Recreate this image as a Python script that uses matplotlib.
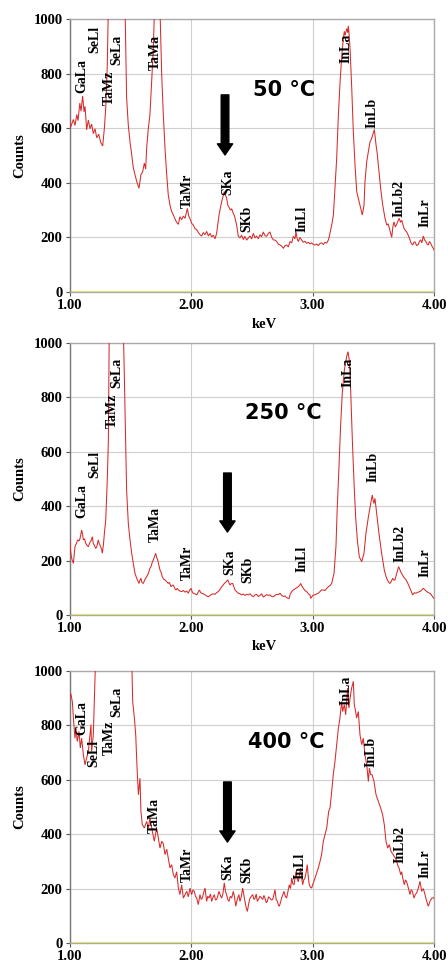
import matplotlib
matplotlib.use("Agg")
import matplotlib.pyplot as plt

# ---------------- spectra (energy in keV, counts) ----------------
kev_50 = [1.000, 1.006, 1.018, 1.032, 1.045, 1.060, 1.070, 1.085, 1.095, 1.108, 1.120, 1.128, 1.141, 1.155,
          1.169, 1.182, 1.196, 1.210, 1.224, 1.240, 1.257, 1.273, 1.287, 1.298, 1.311, 1.320, 1.390, 1.457,
          1.470, 1.484, 1.498, 1.512, 1.525, 1.539, 1.553, 1.572, 1.588, 1.602, 1.616, 1.627, 1.635, 1.649,
          1.662, 1.676, 1.690, 1.698, 1.720, 1.745, 1.759, 1.772, 1.786, 1.800, 1.813, 1.827, 1.841, 1.855,
          1.868, 1.882, 1.896, 1.909, 1.923, 1.937, 1.951, 1.970, 1.980, 1.992, 2.005, 2.019, 2.033, 2.047,
          2.060, 2.074, 2.088, 2.101, 2.115, 2.129, 2.143, 2.157, 2.170, 2.184, 2.198, 2.211, 2.230, 2.252,
          2.274, 2.283, 2.293, 2.303, 2.313, 2.325, 2.335, 2.346, 2.357, 2.367, 2.376, 2.389, 2.403, 2.417,
          2.431, 2.444, 2.458, 2.472, 2.486, 2.499, 2.513, 2.527, 2.540, 2.554, 2.568, 2.581, 2.595, 2.609,
          2.623, 2.637, 2.650, 2.664, 2.678, 2.691, 2.705, 2.719, 2.733, 2.746, 2.760, 2.774, 2.787, 2.801,
          2.815, 2.829, 2.842, 2.856, 2.864, 2.874, 2.883, 2.897, 2.911, 2.925, 2.938, 2.952, 2.966, 2.979,
          2.993, 3.007, 3.021, 3.035, 3.048, 3.062, 3.076, 3.089, 3.103, 3.117, 3.130, 3.139, 3.148, 3.158,
          3.172, 3.185, 3.199, 3.213, 3.227, 3.241, 3.254, 3.262, 3.268, 3.282, 3.290, 3.295, 3.302, 3.309,
          3.323, 3.336, 3.350, 3.364, 3.377, 3.391, 3.410, 3.424, 3.432, 3.446, 3.460, 3.473, 3.485, 3.495,
          3.509, 3.523, 3.532, 3.542, 3.561, 3.578, 3.597, 3.611, 3.622, 3.633, 3.643, 3.652, 3.662, 3.671,
          3.682, 3.693, 3.705, 3.714, 3.724, 3.734, 3.753, 3.765, 3.775, 3.786, 3.797, 3.810, 3.824, 3.834,
          3.843, 3.857, 3.871, 3.880, 3.890, 3.900, 3.912, 3.923, 3.934, 3.944, 3.953, 3.963, 3.972, 3.983,
          3.994, 4.000]
counts_50 = [650, 600, 615, 632, 610, 650, 628, 692, 662, 718, 660, 680, 594, 630,
             598, 615, 580, 598, 565, 578, 548, 535, 600, 673, 830, 1050, 1500, 1050,
             713, 610, 550, 503, 455, 430, 405, 380, 430, 440, 472, 450, 527, 600,
             650, 770, 890, 1010, 1400, 1030, 795, 650, 527, 430, 355, 318, 294, 282,
             268, 255, 248, 276, 265, 278, 270, 306, 280, 268, 252, 245, 232, 228,
             218, 210, 205, 218, 210, 222, 205, 215, 202, 208, 195, 215, 280, 330,
             368, 355, 345, 318, 310, 300, 305, 290, 280, 262, 245, 205, 198, 208,
             192, 204, 190, 198, 205, 194, 215, 198, 205, 195, 210, 202, 220, 206,
             204, 215, 220, 200, 191, 190, 185, 175, 172, 168, 160, 170, 172, 165,
             185, 180, 204, 195, 220, 195, 185, 200, 190, 182, 186, 178, 182, 176,
             180, 174, 172, 176, 170, 178, 180, 174, 182, 179, 190, 204, 225, 245,
             282, 379, 489, 648, 770, 868, 929, 955, 940, 965, 950, 975, 940, 892,
             746, 587, 465, 367, 343, 318, 282, 318, 404, 477, 514, 550, 560, 575,
             595, 538, 510, 465, 379, 318, 270, 245, 250, 233, 215, 200, 240, 257,
             238, 248, 262, 270, 255, 263, 233, 225, 220, 210, 198, 180, 172, 182,
             184, 170, 174, 185, 191, 180, 205, 190, 185, 175, 172, 185, 179, 168,
             160, 154]

kev_250 = [1.000, 1.008, 1.015, 1.023, 1.032, 1.045, 1.056, 1.067, 1.078, 1.086, 1.100, 1.108, 1.114, 1.124,
           1.133, 1.141, 1.155, 1.162, 1.169, 1.177, 1.188, 1.196, 1.204, 1.215, 1.224, 1.237, 1.245, 1.257,
           1.265, 1.270, 1.280, 1.287, 1.298, 1.311, 1.320, 1.328, 1.390, 1.443, 1.451, 1.462, 1.470, 1.484,
           1.498, 1.512, 1.525, 1.539, 1.553, 1.572, 1.580, 1.588, 1.596, 1.608, 1.618, 1.627, 1.640, 1.649,
           1.662, 1.671, 1.682, 1.690, 1.700, 1.709, 1.717, 1.726, 1.735, 1.745, 1.755, 1.764, 1.774, 1.786,
           1.800, 1.813, 1.822, 1.835, 1.845, 1.855, 1.868, 1.877, 1.887, 1.896, 1.909, 1.923, 1.937, 1.951,
           1.965, 1.978, 1.990, 2.000, 2.010, 2.019, 2.033, 2.047, 2.060, 2.069, 2.080, 2.088, 2.101, 2.115,
           2.129, 2.143, 2.157, 2.170, 2.184, 2.198, 2.211, 2.225, 2.240, 2.252, 2.265, 2.274, 2.285, 2.302,
           2.313, 2.321, 2.330, 2.343, 2.352, 2.362, 2.376, 2.389, 2.403, 2.417, 2.431, 2.444, 2.458, 2.472,
           2.486, 2.499, 2.513, 2.527, 2.540, 2.554, 2.568, 2.581, 2.595, 2.609, 2.623, 2.637, 2.650, 2.664,
           2.678, 2.691, 2.705, 2.719, 2.733, 2.746, 2.760, 2.774, 2.787, 2.801, 2.809, 2.815, 2.829, 2.842,
           2.856, 2.870, 2.883, 2.895, 2.903, 2.911, 2.925, 2.938, 2.952, 2.966, 2.979, 2.986, 2.993, 3.007,
           3.021, 3.035, 3.048, 3.062, 3.075, 3.089, 3.103, 3.117, 3.130, 3.144, 3.158, 3.177, 3.193, 3.204,
           3.218, 3.232, 3.245, 3.262, 3.281, 3.292, 3.303, 3.314, 3.328, 3.342, 3.355, 3.369, 3.385, 3.405,
           3.424, 3.440, 3.460, 3.479, 3.492, 3.500, 3.506, 3.514, 3.528, 3.547, 3.569, 3.591, 3.605, 3.616,
           3.627, 3.638, 3.650, 3.660, 3.670, 3.679, 3.693, 3.709, 3.718, 3.726, 3.737, 3.748, 3.759, 3.770,
           3.783, 3.797, 3.810, 3.824, 3.838, 3.852, 3.868, 3.885, 3.898, 3.912, 3.926, 3.940, 3.954, 3.967,
           3.978, 3.989, 4.000]
counts_250 = [288, 240, 215, 200, 190, 251, 262, 276, 272, 280, 312, 295, 276, 280,
              264, 258, 251, 260, 268, 272, 288, 262, 257, 245, 250, 276, 262, 251,
              240, 227, 262, 300, 349, 496, 643, 1100, 1800, 1050, 888, 643, 460, 337,
              276, 227, 190, 153, 135, 116, 128, 135, 120, 116, 128, 135, 145, 153,
              172, 178, 195, 202, 215, 227, 212, 202, 185, 165, 155, 141, 132, 129,
              122, 116, 120, 104, 108, 110, 96, 92, 98, 92, 88, 86, 90, 84,
              88, 80, 92, 98, 85, 80, 78, 74, 85, 92, 82, 80, 78, 74,
              70, 67, 72, 76, 78, 76, 82, 86, 95, 104, 110, 116, 120, 129,
              118, 110, 115, 116, 105, 92, 86, 80, 78, 74, 77, 72, 76, 74,
              78, 72, 67, 74, 76, 68, 72, 78, 66, 70, 75, 72, 74, 68,
              67, 72, 76, 75, 80, 72, 68, 70, 64, 61, 61, 75, 86, 92,
              96, 100, 104, 110, 116, 108, 98, 90, 86, 78, 74, 61, 66, 74,
              74, 78, 80, 86, 92, 92, 90, 98, 104, 108, 116, 153, 251, 398,
              545, 704, 814, 900, 950, 968, 937, 827, 643, 484, 361, 276, 214, 196,
              227, 300, 361, 410, 441, 420, 410, 429, 374, 300, 227, 165, 142, 129,
              120, 116, 125, 135, 128, 129, 153, 178, 168, 159, 150, 141, 135, 129,
              118, 104, 90, 74, 82, 80, 84, 86, 92, 98, 92, 86, 82, 80,
              74, 67, 61]

kev_400 = [1.000, 1.010, 1.023, 1.034, 1.045, 1.053, 1.064, 1.078, 1.089, 1.100, 1.114, 1.128, 1.141, 1.155,
           1.169, 1.177, 1.182, 1.196, 1.204, 1.215, 1.300, 1.400, 1.512, 1.520, 1.534, 1.545, 1.556, 1.567,
           1.580, 1.588, 1.599, 1.616, 1.635, 1.649, 1.662, 1.682, 1.698, 1.717, 1.731, 1.745, 1.759, 1.772,
           1.786, 1.800, 1.813, 1.827, 1.841, 1.855, 1.868, 1.882, 1.896, 1.909, 1.923, 1.937, 1.951, 1.965,
           1.978, 1.992, 2.005, 2.016, 2.027, 2.037, 2.047, 2.060, 2.074, 2.084, 2.093, 2.104, 2.115, 2.129,
           2.138, 2.148, 2.160, 2.170, 2.181, 2.192, 2.201, 2.211, 2.220, 2.230, 2.241, 2.252, 2.263, 2.274,
           2.284, 2.293, 2.303, 2.313, 2.324, 2.335, 2.348, 2.358, 2.368, 2.376, 2.384, 2.394, 2.403, 2.414,
           2.425, 2.435, 2.444, 2.454, 2.464, 2.475, 2.486, 2.497, 2.508, 2.518, 2.527, 2.537, 2.546, 2.557,
           2.568, 2.579, 2.590, 2.600, 2.609, 2.619, 2.628, 2.639, 2.650, 2.661, 2.672, 2.682, 2.691, 2.701,
           2.711, 2.719, 2.727, 2.737, 2.746, 2.756, 2.765, 2.776, 2.787, 2.798, 2.809, 2.819, 2.829, 2.838,
           2.848, 2.856, 2.864, 2.874, 2.883, 2.893, 2.903, 2.911, 2.919, 2.928, 2.938, 2.948, 2.957, 2.966,
           2.974, 2.983, 2.993, 3.002, 3.012, 3.020, 3.029, 3.038, 3.048, 3.062, 3.075, 3.089, 3.103, 3.117,
           3.133, 3.144, 3.158, 3.171, 3.185, 3.199, 3.213, 3.226, 3.240, 3.248, 3.262, 3.273, 3.281, 3.289,
           3.300, 3.309, 3.322, 3.336, 3.344, 3.355, 3.363, 3.377, 3.391, 3.405, 3.418, 3.432, 3.446, 3.460,
           3.468, 3.479, 3.490, 3.506, 3.523, 3.542, 3.561, 3.577, 3.591, 3.605, 3.619, 3.632, 3.646, 3.656,
           3.665, 3.672, 3.679, 3.693, 3.702, 3.712, 3.726, 3.734, 3.742, 3.756, 3.765, 3.775, 3.789, 3.802,
           3.812, 3.822, 3.835, 3.846, 3.857, 3.871, 3.885, 3.898, 3.912, 3.926, 3.940, 3.953, 3.967, 3.981,
           3.994, 4.000]
counts_400 = [901, 918, 888, 815, 753, 790, 741, 778, 717, 753, 692, 655, 680, 704,
              765, 803, 704, 765, 888, 1050, 1600, 1700, 1050, 888, 827, 765, 643, 545,
              606, 484, 435, 423, 447, 423, 460, 410, 374, 423, 386, 349, 374, 365,
              325, 345, 312, 276, 288, 251, 239, 262, 202, 178, 214, 165, 178, 190,
              170, 202, 178, 195, 190, 172, 165, 141, 178, 160, 165, 185, 202, 153,
              172, 165, 180, 153, 168, 178, 158, 160, 172, 190, 176, 165, 182, 221,
              190, 178, 160, 153, 172, 165, 190, 170, 135, 152, 165, 178, 153, 170,
              202, 176, 153, 130, 116, 145, 165, 172, 178, 160, 165, 180, 153, 162,
              172, 166, 160, 175, 165, 148, 153, 170, 165, 158, 160, 176, 196, 160,
              153, 140, 135, 150, 165, 178, 190, 172, 165, 190, 214, 200, 239, 218,
              214, 240, 263, 236, 225, 250, 276, 240, 214, 232, 239, 260, 288, 240,
              214, 205, 202, 215, 227, 238, 251, 262, 276, 300, 325, 374, 398, 423,
              484, 496, 557, 619, 668, 729, 790, 827, 888, 851, 876, 839, 888, 937,
              864, 900, 937, 962, 876, 851, 827, 851, 765, 729, 753, 692, 655, 594,
              643, 619, 619, 594, 545, 521, 496, 472, 435, 374, 349, 362, 337, 330,
              325, 318, 315, 300, 285, 276, 251, 262, 240, 214, 232, 225, 202, 178,
              196, 190, 165, 178, 184, 202, 227, 190, 200, 178, 153, 135, 153, 165,
              165, 168]

# ---------------- annotations ----------------
lines_50 = ["GaLa", "SeLl", "TaMz", "SeLa", "TaMa", "TaMr", "SKa", "SKb", "InLl", "InLa", "InLb", "InLb2", "InLr"]
line_x_50 = [1.10, 1.21, 1.33, 1.39, 1.71, 1.97, 2.30, 2.46, 2.91, 3.28, 3.49, 3.71, 3.93]
line_y_50 = [729, 875, 685, 831, 813, 308, 355, 220, 220, 839, 601, 275, 238]

lines_250 = ["GaLa", "SeLl", "TaMz", "SeLa", "TaMa", "TaMr", "SKa", "SKb", "InLl", "InLa", "InLb", "InLb2", "InLr"]
line_x_250 = [1.10, 1.21, 1.35, 1.39, 1.71, 1.97, 2.32, 2.47, 2.91, 3.29, 3.50, 3.72, 3.93]
line_y_250 = [357, 504, 687, 835, 268, 129, 147, 118, 158, 838, 489, 195, 140]

lines_400 = ["GaLa", "SeLl", "TaMz", "SeLa", "TaMa", "TaMr", "SKa", "SKb", "InLl", "InLa", "InLb", "InLb2", "InLr"]
line_x_400 = [1.10, 1.20, 1.33, 1.39, 1.70, 1.97, 2.30, 2.46, 2.90, 3.28, 3.48, 3.72, 3.93]
line_y_400 = [765, 647, 691, 831, 404, 224, 232, 221, 235, 875, 647, 294, 239]

temperatures = ["50 °C", "250 °C", "400 °C"]
temp_x = [2.77, 2.76, 2.78]
temp_y = [740, 743, 739]

arrow_x = [2.28, 2.30, 2.30]
arrow_top = [722, 522, 592]
arrow_tip = [502, 305, 371]

x_ticks = [1.0, 2.0, 3.0, 4.0]
x_tick_labels = ["1.00", "2.00", "3.00", "4.00"]
y_ticks = [0, 200, 400, 600, 800, 1000]

# ---------------- drawing ----------------
W, H = 448, 965
fig = plt.figure(figsize=(W / 100, H / 100), dpi=100)
fig.patch.set_facecolor("white")

serif = "Liberation Serif"
panels = [
    (19, 292, kev_50, counts_50, lines_50, line_x_50, line_y_50, True),
    (343, 615, kev_250, counts_250, lines_250, line_x_250, line_y_250, True),
    (671, 943, kev_400, counts_400, lines_400, line_x_400, line_y_400, False),
]
left_px, right_px = 69.5, 434

for i, (top, bot, ex, cy, names, nx, ny, show_kev) in enumerate(panels):
    ax = fig.add_axes([left_px / W, 1 - bot / H, (right_px - left_px) / W, (bot - top) / H])
    ax.set_xlim(1.0, 4.0)
    ax.set_ylim(0, 1000)
    ax.plot(ex, cy, color="#d82a2a", lw=0.75, zorder=3, solid_joinstyle="miter")
    ax.axhline(0, color="#f2ee6a", lw=1.6, zorder=2)

    ax.set_xticks(x_ticks)
    ax.set_xticklabels(x_tick_labels)
    ax.set_yticks(y_ticks)
    ax.grid(True, color="#cfcfcf", lw=0.8, zorder=0)
    ax.set_axisbelow(True)
    ax.tick_params(axis="both", length=3, width=0.8, color="#555555", pad=2)
    for lab in ax.get_xticklabels() + ax.get_yticklabels():
        lab.set_fontfamily(serif)
        lab.set_fontweight("bold")
        lab.set_fontsize(10.5)
    ax.spines["left"].set_color("#777777")
    ax.spines["bottom"].set_color("#aaaaaa")
    ax.spines["top"].set_color("#aaaaaa")
    ax.spines["right"].set_color("#aaaaaa")
    for s in ax.spines.values():
        s.set_linewidth(1.0)

    ax.set_ylabel("Counts", fontfamily=serif, fontweight="bold", fontsize=10.5, labelpad=5)
    if show_kev:
        ax.set_xlabel("keV", fontfamily=serif, fontweight="bold", fontsize=10.5, labelpad=4, x=0.534)

    for name, x, y in zip(names, nx, ny):
        ax.text(x, y, name, rotation=90, ha="center", va="bottom", fontfamily=serif,
                fontweight="bold", fontsize=10, color="black", zorder=4)

    ax.text(temp_x[i], temp_y[i], temperatures[i], ha="center", va="center",
            fontfamily="DejaVu Sans", fontweight="bold", fontsize=15, color="black", zorder=5)

    ax.annotate("", xy=(arrow_x[i], arrow_tip[i]), xytext=(arrow_x[i], arrow_top[i]),
                arrowprops=dict(facecolor="black", edgecolor="black", width=5.5,
                                headwidth=11, headlength=8, shrink=0),
                zorder=5)

fig.savefig("out.png", dpi=100, facecolor="white")
